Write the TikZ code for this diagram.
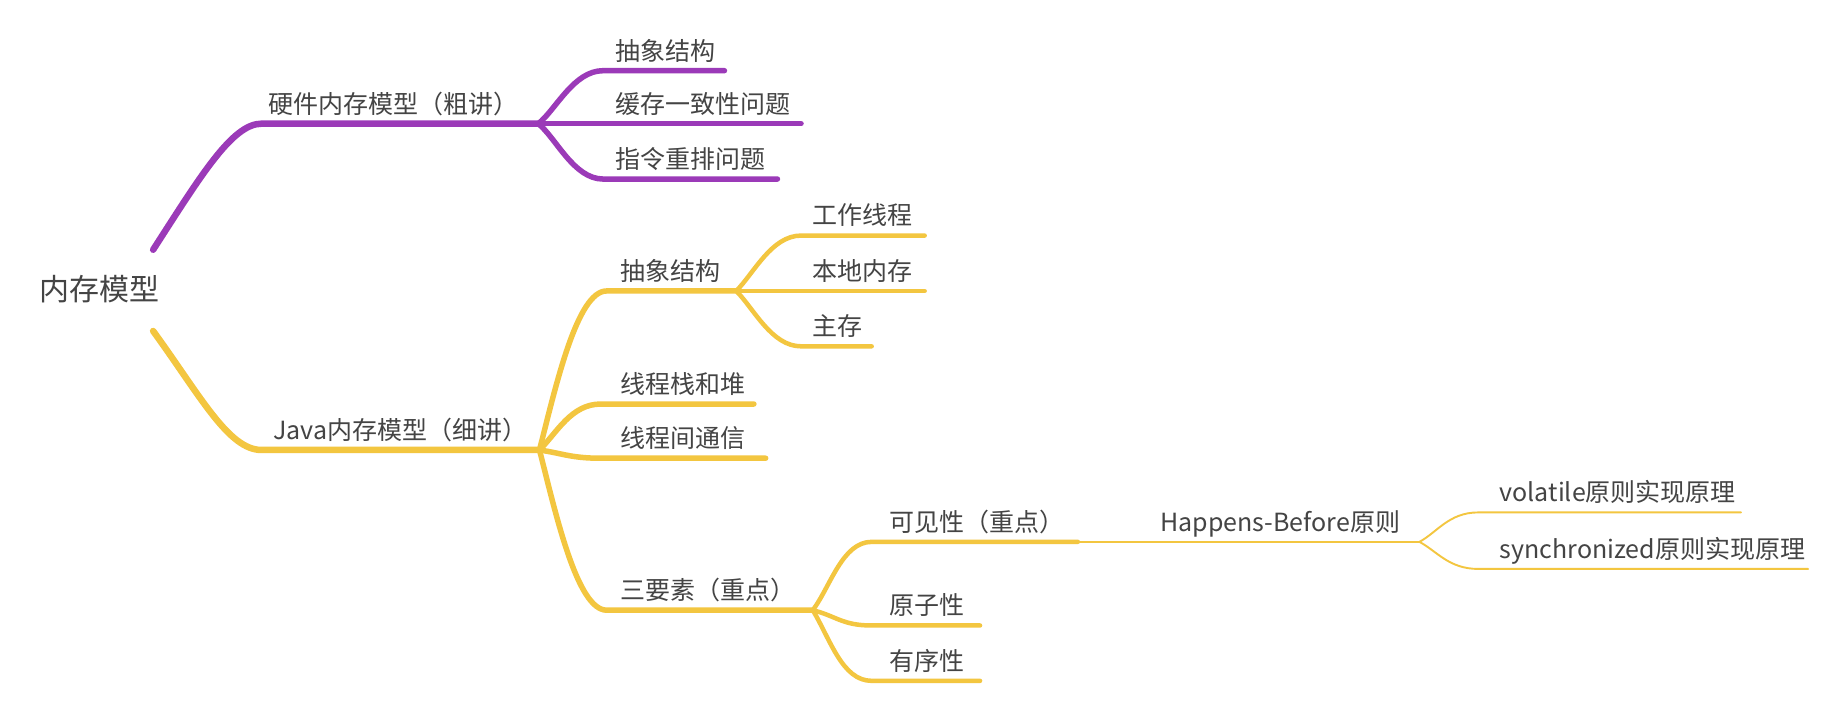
\documentclass[tikz,border=0pt]{standalone}
\usepackage{fontspec}
\setmainfont{Noto Sans CJK SC}
\definecolor{purp}{HTML}{9B3AB8}
\definecolor{yel}{HTML}{F3C640}
\definecolor{txt}{HTML}{444444}
\begin{document}
\begin{tikzpicture}[x=1.178pt,y=-1.178pt,
  lbl/.style={anchor=base west, inner sep=0pt, text=txt, font=\fontsize{25}{30}\selectfont},
  rootlbl/.style={anchor=base west, inner sep=0pt, text=txt, font=\fontsize{30}{36}\selectfont},
  br/.style={line cap=round, line join=round},
  Lone/.style={br, line width=6.5pt},
  Ltwo/.style={br, line width=5.5pt},
  Lthree/.style={br, line width=4.5pt},
  Lfour/.style={br, line width=2.6pt},
  Lfive/.style={br, line width=1.9pt}]
\fill[white] (0,0) rectangle (1568,607);
\useasboundingbox (0,0) rectangle (1568,607);

% root
\node[rootlbl] (root) at (33,255) {内存模型};

% ---------- purple branch ----------
\coordinate (r1) at (130,212);
\coordinate (hwS) at (222,105);
\coordinate (hwF) at (457,105);
\draw[Lone,purp] (r1) .. controls +(40,-62) and +(-25,0) .. (hwS) -- (hwF);
\node[lbl] (hw) at (228,96) {硬件内存模型（粗讲）};

\coordinate (p1s) at (512,60);  \coordinate (p1e) at (615,60);
\coordinate (p2e) at (680,105);
\coordinate (p3s) at (512,152); \coordinate (p3e) at (660,152);
\draw[Ltwo,purp] (hwF) .. controls +(15,-12) and +(-25,0) .. (p1s) -- (p1e);
\draw[Ltwo,purp] (hwF) -- (p2e);
\draw[Ltwo,purp] (hwF) .. controls +(15,12) and +(-25,0) .. (p3s) -- (p3e);
\node[lbl] (p1) at (522,51) {抽象结构};
\node[lbl] (p2) at (522,96) {缓存一致性问题};
\node[lbl] (p3) at (522,143) {指令重排问题};

% ---------- yellow branch ----------
\coordinate (r2) at (130,281);
\coordinate (jvS) at (222,382);
\coordinate (jvF) at (458,382);
\draw[Lone,yel] (r2) .. controls +(40,55) and +(-28,0) .. (jvS) -- (jvF);
\node[lbl] (jv) at (232,373) {Java内存模型（细讲）};

% 抽象结构
\coordinate (y1s) at (515,247); \coordinate (y1F) at (625,247);
\draw[Ltwo,yel] (jvF) .. controls +(14,-55) and +(-25,0) .. (y1s) -- (y1F);
\node[lbl] (y1) at (527,238) {抽象结构};

\coordinate (y11s) at (680,200); \coordinate (y11e) at (785,200);
\coordinate (y12e) at (785,247);
\coordinate (y13s) at (680,294); \coordinate (y13e) at (740,294);
\draw[Lthree,yel] (y1F) .. controls +(15,-15) and +(-25,0) .. (y11s) -- (y11e);
\draw[Lthree,yel] (y1F) -- (y12e);
\draw[Lthree,yel] (y1F) .. controls +(15,15) and +(-25,0) .. (y13s) -- (y13e);
\node[lbl] (y11) at (690,191) {工作线程};
\node[lbl] (y12) at (690,238) {本地内存};
\node[lbl] (y13) at (690,285) {主存};

% 线程栈和堆 / 线程间通信
\coordinate (y2s) at (510,343); \coordinate (y2e) at (640,343);
\coordinate (y3s) at (510,389); \coordinate (y3e) at (650,389);
\draw[Ltwo,yel] (jvF) .. controls +(15,-15) and +(-25,0) .. (y2s) -- (y2e);
\draw[Ltwo,yel] (jvF) .. controls +(20,3) and +(-25,0) .. (y3s) -- (y3e);
\node[lbl] (y2) at (527,334) {线程栈和堆};
\node[lbl] (y3) at (527,380) {线程间通信};

% 三要素
\coordinate (y4s) at (515,518); \coordinate (y4F) at (690,518);
\draw[Ltwo,yel] (jvF) .. controls +(14,55) and +(-25,0) .. (y4s) -- (y4F);
\node[lbl] (y4) at (527,509) {三要素（重点）};

\coordinate (y41s) at (740,460); \coordinate (y41e) at (915,460);
\coordinate (y42s) at (740,531); \coordinate (y42e) at (832,531);
\coordinate (y43s) at (740,578); \coordinate (y43e) at (832,578);
\draw[Lthree,yel] (y4F) .. controls +(15,-20) and +(-25,0) .. (y41s) -- (y41e);
\draw[Lthree,yel] (y4F) .. controls +(20,5) and +(-25,0) .. (y42s) -- (y42e);
\draw[Lthree,yel] (y4F) .. controls +(15,25) and +(-25,0) .. (y43s) -- (y43e);
\node[lbl] (y41) at (755,451) {可见性（重点）};
\node[lbl] (y42) at (755,522) {原子性};
\node[lbl] (y43) at (755,569) {有序性};

% Happens-Before
\coordinate (hbF) at (1205,460);
\draw[Lfour,yel] (y41e) -- (hbF);
\node[lbl] (hb) at (985,451) {Happens-Before原则};

\coordinate (v1s) at (1255,435); \coordinate (v1e) at (1478,435);
\coordinate (v2s) at (1255,483); \coordinate (v2e) at (1535,483);
\draw[Lfive,yel] (hbF) .. controls +(15,-8) and +(-25,0) .. (v1s) -- (v1e);
\draw[Lfive,yel] (hbF) .. controls +(15,8) and +(-25,0) .. (v2s) -- (v2e);
\node[lbl] (v1) at (1273,426) {volatile原则实现原理};
\node[lbl] (v2) at (1273,474) {synchronized原则实现原理};
\end{tikzpicture}
\end{document}
